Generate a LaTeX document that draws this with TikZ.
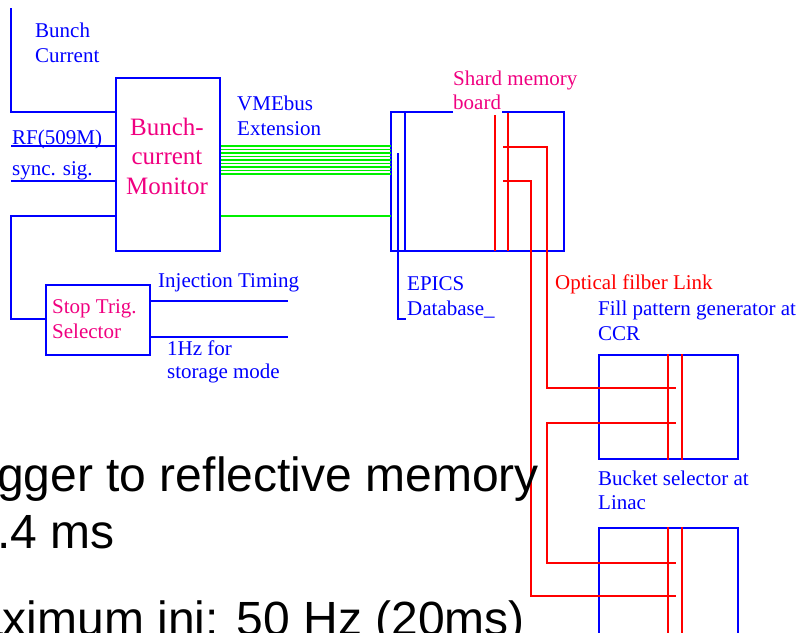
\documentclass[tikz,border=0pt]{standalone}
\usepackage{fontspec}
\setmainfont{Liberation Serif}
\newfontfamily\arialf{Liberation Sans}
\definecolor{bl}{RGB}{0,0,255}
\definecolor{pk}{RGB}{240,0,128}
\definecolor{rd}{RGB}{255,0,0}
\definecolor{gr}{RGB}{0,240,0}
\newcommand\twoL[2]{\begin{tabular}[t]{@{}l@{}}#1\\#2\end{tabular}}
\begin{document}
\begin{tikzpicture}[x=1pt,y=-1pt,
  bline/.style={draw=bl,line width=2pt},
  rline/.style={draw=rd,line width=2pt},
  gline/.style={draw=gr,line width=1.6pt},
  boxb/.style={draw=bl,line width=2pt,inner sep=0pt,anchor=north west},
  lbl/.style={inner sep=0pt,anchor=base west,font=\fontsize{21}{25}\selectfont,text=bl},
  big/.style={inner sep=0pt,anchor=base east,font=\arialf\fontsize{48}{57}\selectfont,text=black}]
\useasboundingbox (0,0) rectangle (803,632);
\clip (0,0) rectangle (803,632);

% boxes
\node[boxb,minimum width=104pt,minimum height=173pt] (mon) at (115,77) {};
\node[boxb,minimum width=104pt,minimum height=70pt] (stop) at (45,284) {};
\node[inner sep=0pt,anchor=north west,minimum width=173pt,minimum height=139pt] (mem) at (391,112) {};
\node[boxb,minimum width=139pt,minimum height=104pt] (fill) at (598,354) {};
\node[boxb,minimum width=139pt,minimum height=120pt] (buck) at (598,527) {};

% memory board outline with gap for label
\draw[bline] ([xshift=62pt]mem.north west) -- (mem.north west) -- (mem.south west)
  -- (mem.south east) -- (mem.north east) -- ([xshift=-62pt]mem.north east);
\draw[bline] ([xshift=14pt]mem.north west) -- ([xshift=14pt]mem.south west);

% coordinates
\coordinate (bcTop) at (11,8);
\coordinate (rfL) at (11,146);
\coordinate (syL) at (11,181);
\coordinate (injR) at (288,301);
\coordinate (hzR) at (288,337);

% blue connectors
\draw[bline] (bcTop) |- (mon.west |- 0,112);
\draw[bline] (rfL) -- (mon.west |- rfL);
\draw[bline] (syL) -- (mon.west |- syL);
\draw[bline] (mon.west |- 0,216) -| (11,319) -- (stop.west |- 0,319);
\draw[bline] (stop.east |- injR) -- (injR);
\draw[bline] (stop.east |- hzR) -- (hzR);
\draw[bline] (398,153) -- (398,319) -- (406,319);

% green bus
\foreach \i in {0,...,8}{
  \draw[gline] (mon.east |- 0,{146+3.5*\i}) -- (mem.west |- 0,{146+3.5*\i});
}
\draw[gline] (mon.east |- 0,216) -- (mem.west |- 0,216);

% red lines in memory board
\draw[rline] (495,115) -- (495,251);
\draw[rline] (508,113) -- (508,251);
% red bars in remote boxes
\draw[rline] (fill.north west -| 668,0) -- (fill.south west -| 668,0);
\draw[rline] (fill.north west -| 682,0) -- (fill.south west -| 682,0);
\draw[rline] (buck.north west -| 668,0) -- (buck.south west -| 668,0);
\draw[rline] (buck.north west -| 682,0) -- (buck.south west -| 682,0);
% optical links
\draw[rline] (503,147) -| (547,388) -- (676,388);
\draw[rline] (503,181) -| (531,596) -- (676,596);
\draw[rline] (676,423) -| (547,563) -- (676,563);

% labels
\node[lbl] (lbc) at (35,37) {\twoL{Bunch}{Current}};
\node[lbl] (lrf) at (12,144) {RF(509M)};
\node[lbl] (lsy) at (12,175) {sync. sig.};
\node[lbl] (lvme) at (237,110) {\twoL{VMEbus}{Extension}};
\node[inner sep=0pt,anchor=base,font=\fontsize{25}{29.5}\selectfont,text=pk] (lmon) at (167,135)
  {\begin{tabular}[t]{@{}c@{}}Bunch-\\current\\Monitor\end{tabular}};
\node[lbl] (linj) at (158,287) {Injection Timing};
\node[lbl,text=pk] (lstop) at (52,313) {\twoL{Stop Trig.}{Selector}};
\node[lbl,font=\fontsize{21}{23}\selectfont] (lhz) at (167,355) {\twoL{1Hz for}{storage mode}};
\node[lbl,text=pk,font=\fontsize{21}{24}\selectfont] (lmem) at (453,85) {\twoL{Shard memory}{board}};
\node[lbl] (lepics) at (407,290) {\twoL{EPICS}{Database\_}};
\node[lbl,text=rd] (lopt) at (555,289) {Optical filber Link};
\node[lbl] (lfill) at (598,315) {\twoL{Fill pattern generator at}{CCR}};
\node[lbl,font=\fontsize{21}{24}\selectfont] (lbuck) at (598,485) {\twoL{Bucket selector at}{Linac}};

% large slide text (clipped at the left edge)
\node[big] (t1) at (539,491) {gger to reflective memory};
\node[big] (t2) at (115,548) {.4 ms};
\node[big] (t3) at (525,635) {aximum inj: 50 Hz (20ms)};
\end{tikzpicture}
\end{document}
